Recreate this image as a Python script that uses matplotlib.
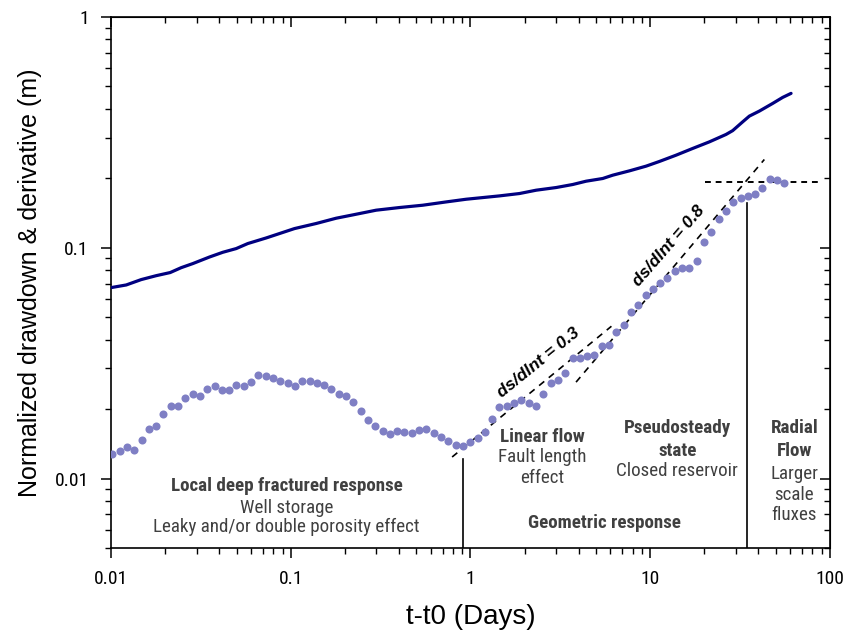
import matplotlib
matplotlib.use("Agg")
import matplotlib.pyplot as plt
from matplotlib import font_manager
from matplotlib.ticker import LogLocator, NullFormatter, FixedLocator, FixedFormatter


def pick_font(*names):
    for n in names:
        try:
            font_manager.findfont(n, fallback_to_default=False)
            return n
        except ValueError:
            pass
    return "DejaVu Sans"


wide = pick_font("Liberation Sans", "Arial")
narrow = pick_font("Liberation Sans Narrow", "Roboto Condensed", "Liberation Sans")
plt.rcParams["font.family"] = [wide, "DejaVu Sans"]

# drawdown (solid line)
t_draw = [0.01, 0.01215, 0.01472, 0.01784, 0.02135, 0.02458, 0.02851, 0.03532, 0.04188,
          0.04972, 0.05768, 0.07302, 0.08849, 0.1049, 0.1385, 0.1790, 0.2214, 0.2988,
          0.4027, 0.5430, 0.7325, 0.9464, 1.450, 1.874, 2.320, 2.998, 3.708, 4.402,
          5.445, 6.190, 7.664, 9.495, 11.26, 13.94, 17.25, 21.36, 26.45, 28.79, 32.73,
          35.66, 40.53, 48.07, 54.64, 60.83]
s_draw = [0.0672, 0.0690, 0.0728, 0.0757, 0.0781, 0.0820, 0.0854, 0.0912, 0.0956,
          0.0992, 0.1043, 0.1103, 0.1159, 0.1211, 0.1274, 0.1343, 0.1388, 0.1455,
          0.1494, 0.1529, 0.1580, 0.1623, 0.1678, 0.1718, 0.1776, 0.1824, 0.1880,
          0.1943, 0.1996, 0.2063, 0.2154, 0.2258, 0.2366, 0.2519, 0.2694, 0.2877,
          0.3098, 0.3218, 0.3513, 0.3720, 0.3911, 0.4222, 0.4483, 0.4667]

# derivative (dots)
t_deriv = [0.01016, 0.01116, 0.01226, 0.01346, 0.01478, 0.01623, 0.01782, 0.01957,
           0.02149, 0.02360, 0.02592, 0.02846, 0.03125, 0.03431, 0.03768, 0.04137,
           0.04543, 0.04989, 0.05478, 0.06015, 0.06607, 0.07254, 0.07966, 0.08748,
           0.09607, 0.1055, 0.1158, 0.1272, 0.1397, 0.1534, 0.1684, 0.1849, 0.2031,
           0.2230, 0.2449, 0.2689, 0.2953, 0.3243, 0.3561, 0.3911, 0.4295, 0.4716,
           0.5179, 0.5687, 0.6245, 0.6858, 0.7531, 0.8270, 0.9082, 0.9972, 1.095,
           1.203, 1.321, 1.450, 1.593, 1.749, 1.920, 2.109, 2.316, 2.543, 2.793,
           3.067, 3.368, 3.698, 4.061, 4.459, 4.897, 5.377, 5.905, 6.484, 7.120,
           7.819, 8.586, 9.428, 10.35, 11.37, 12.49, 13.71, 15.06, 16.53, 18.16,
           19.94, 21.89, 24.04, 26.40, 28.99, 31.84, 34.96, 38.39, 42.16, 46.30,
           50.84, 55.83]
s_deriv = [0.01280, 0.01322, 0.01367, 0.01331, 0.01476, 0.01637, 0.01686, 0.01909,
           0.02067, 0.02059, 0.02224, 0.02314, 0.02275, 0.02433, 0.02525, 0.02409,
           0.02416, 0.02550, 0.02514, 0.02609, 0.02807, 0.02790, 0.02716, 0.02643,
           0.02596, 0.02525, 0.02654, 0.02643, 0.02583, 0.02532, 0.02440, 0.02331,
           0.02275, 0.02143, 0.01966, 0.01790, 0.01693, 0.01604, 0.01562, 0.01610,
           0.01588, 0.01572, 0.01620, 0.01632, 0.01578, 0.01514, 0.01459, 0.01395,
           0.01387, 0.01440, 0.01503, 0.01599, 0.01816, 0.02039, 0.02059, 0.02116,
           0.02180, 0.02122, 0.02067, 0.02314, 0.02601, 0.02662, 0.02854, 0.03339,
           0.03339, 0.03383, 0.03441, 0.03750, 0.03802, 0.04299, 0.04643, 0.05266,
           0.05630, 0.06266, 0.06653, 0.07035, 0.07425, 0.07928, 0.08173, 0.08173,
           0.08766, 0.1059, 0.1168, 0.1336, 0.1440, 0.1575, 0.1640, 0.1673, 0.1707,
           0.1817, 0.1992, 0.1963, 0.1905]

# fitted slopes and limits
slope1_t = [0.791, 6.09]
slope1_s = [0.01240, 0.04570]
slope2_t = [3.87, 43.2]
slope2_s = [0.02617, 0.2413]
radial_t = [20.2, 90.8]
radial_s = 0.1930
bounds_t = [0.91, 34.6]
bounds_top = [0.01221, 0.156]

fig = plt.figure(figsize=(8.52, 6.34), dpi=100)
ax = fig.add_axes([0.1303, 0.1356, 0.8437, 0.8376])

ax.plot(t_draw, s_draw, color="#000080", lw=2.3, solid_capstyle="round", zorder=3)
ax.plot(t_deriv, s_deriv, "o", color="#7f7fc4", ms=5.8, mec="none", zorder=4)

ax.plot(slope1_t, slope1_s, color="black", lw=1.2, dashes=(4, 3.5), zorder=2)
ax.plot(slope2_t, slope2_s, color="black", lw=1.2, dashes=(4, 3.5), zorder=2)
ax.plot(radial_t, [radial_s, radial_s], color="black", lw=1.4, dashes=(3, 2.5), zorder=2)
for bt, btop in zip(bounds_t, bounds_top):
    ax.plot([bt, bt], [0.005, btop], color="black", lw=1.2, zorder=2)

ax.set_xscale("log")
ax.set_yscale("log")
ax.set_xlim(0.01, 100)
ax.set_ylim(0.005, 1)

ax.xaxis.set_major_locator(FixedLocator([0.01, 0.1, 1, 10, 100]))
ax.xaxis.set_major_formatter(FixedFormatter(["0.01", "0.1", "1", "10", "100"]))
ax.yaxis.set_major_locator(FixedLocator([0.01, 0.1, 1]))
ax.yaxis.set_major_formatter(FixedFormatter(["0.01", "0.1", "1"]))
for a in (ax.xaxis, ax.yaxis):
    a.set_minor_locator(LogLocator(base=10, subs=range(2, 10), numticks=20))
    a.set_minor_formatter(NullFormatter())

ax.tick_params(which="major", direction="out", length=7, width=1.1, labelsize=14, pad=9)
ax.tick_params(which="minor", direction="out", length=4, width=1.0)
for lab in ax.get_xticklabels() + ax.get_yticklabels():
    lab.set_family([narrow, "DejaVu Sans"])
for sp in ax.spines.values():
    sp.set_linewidth(1.2)

# inward ticks on top and right
top = ax.secondary_xaxis("top")
top.tick_params(which="major", direction="in", length=7, width=1.1, labeltop=False)
top.tick_params(which="minor", direction="in", length=4, width=1.0)
top.xaxis.set_major_locator(FixedLocator([0.01, 0.1, 1, 10, 100]))
top.xaxis.set_minor_locator(LogLocator(base=10, subs=range(2, 10), numticks=20))
top.xaxis.set_major_formatter(NullFormatter())
top.xaxis.set_minor_formatter(NullFormatter())
right = ax.secondary_yaxis("right")
right.tick_params(which="major", direction="in", length=7, width=1.1, labelright=False)
right.tick_params(which="minor", direction="in", length=4, width=1.0)
right.yaxis.set_major_locator(FixedLocator([0.01, 0.1, 1]))
right.yaxis.set_minor_locator(LogLocator(base=10, subs=range(2, 10), numticks=20))
right.yaxis.set_major_formatter(NullFormatter())
right.yaxis.set_minor_formatter(NullFormatter())

ax.set_xlabel("t-t0 (Days)", fontsize=20, labelpad=11)
ax.set_ylabel("Normalized drawdown & derivative (m)", fontsize=18, labelpad=9)

gray = "#404040"
nf = [narrow, "DejaVu Sans"]
notes = [
    (0.0947, 0.00932, "Local deep fractured response", "bold"),
    (0.0947, 0.00748, "Well storage", "normal"),
    (0.0947, 0.00619, "Leaky and/or double porosity effect", "normal"),
    (2.515, 0.01521, "Linear flow", "bold"),
    (2.515, 0.01246, "Fault length", "normal"),
    (2.515, 0.01010, "effect", "normal"),
    (14.18, 0.01648, "Pseudosteady", "bold"),
    (14.18, 0.01323, "state", "bold"),
    (14.18, 0.01083, "Closed reservoir", "normal"),
    (5.567, 0.00644, "Geometric response", "bold"),
    (63.45, 0.01648, "Radial", "bold"),
    (63.45, 0.01323, "Flow", "bold"),
    (63.45, 0.01051, "Larger", "normal"),
    (63.45, 0.00852, "scale", "normal"),
    (63.45, 0.00698, "fluxes", "normal"),
]
for x, y, s, w in notes:
    ax.text(x, y, s, ha="center", va="center", fontsize=13.7, color=gray,
            fontweight=w, family=nf)

ax.text(2.389, 0.03186, "ds/dlnt = 0.3", ha="center", va="center", rotation=39,
        fontsize=12.5, fontweight="bold", style="italic", color="black")
ax.text(12.63, 0.1015, "ds/dlnt = 0.8", ha="center", va="center", rotation=49,
        fontsize=12.5, fontweight="bold", style="italic", color="black")

fig.savefig("out.png", dpi=100)
